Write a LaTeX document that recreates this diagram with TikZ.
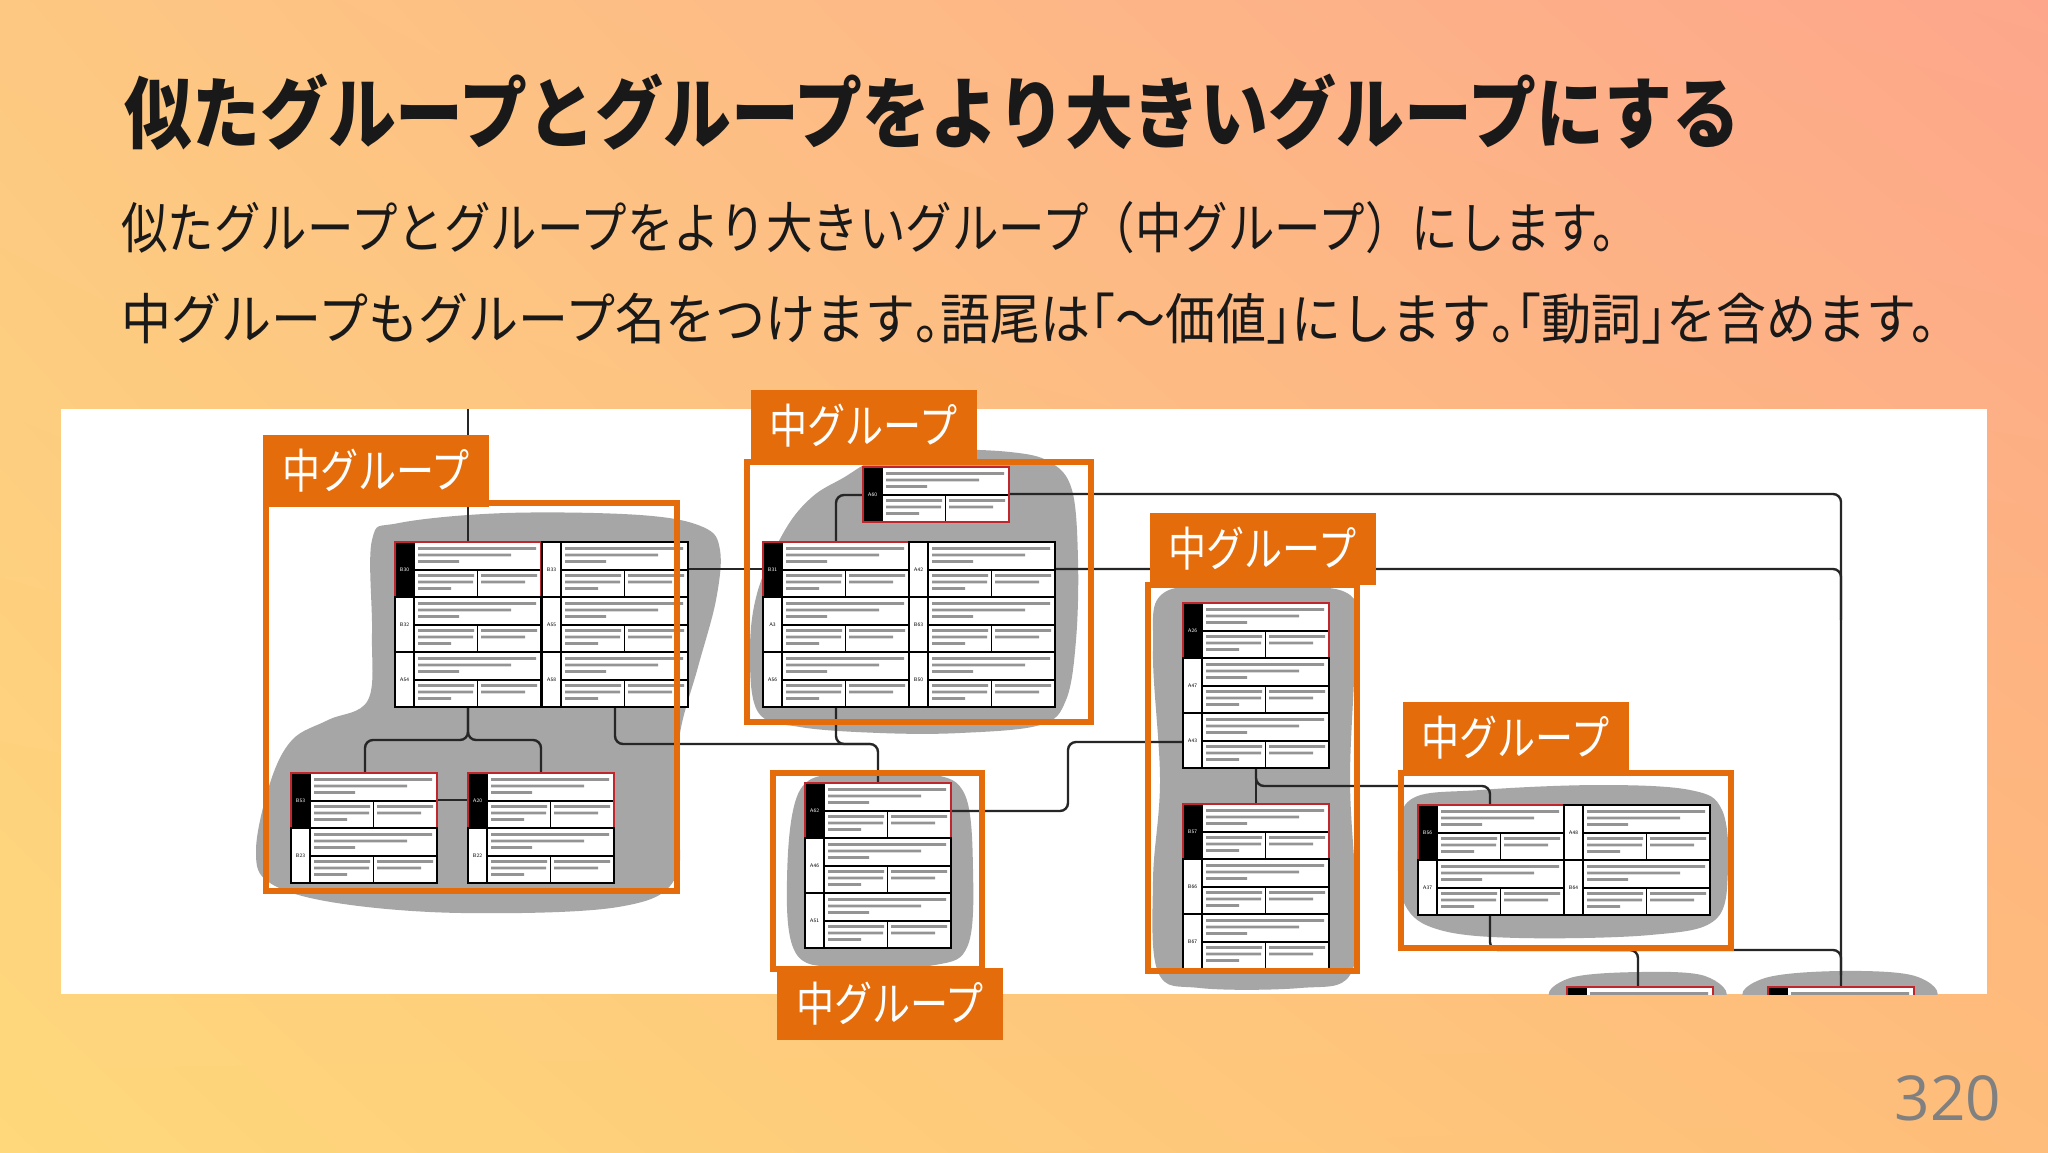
\documentclass[tikz,border=0pt]{standalone}
\usepackage{fontspec}
\usetikzlibrary{shadings}
\newfontfamily\jp{Noto Sans CJK JP}
\newfontfamily\jph{Noto Sans CJK JP}[RawFeature=+halt]
\newfontfamily\osans{Open Sans}
\definecolor{gorange}{HTML}{E46C0A}
\definecolor{blobc}{HTML}{A6A6A6}
\definecolor{linec}{HTML}{262626}
\definecolor{bgTL}{HTML}{FDC882}
\definecolor{bgTR}{HTML}{FDA68B}
\definecolor{bgBL}{HTML}{FED87B}
\definecolor{bgBR}{HTML}{FEBD7A}
\definecolor{pnumc}{HTML}{808080}
\definecolor{keyredc}{HTML}{C0272D}
\tikzset{
  conn/.style={draw=linec, line width=1.2pt, rounded corners=4pt},
  gframe/.style={draw=gorange, line width=3pt},
  lblbox/.style={fill=gorange, minimum width=113pt, minimum height=36pt, inner sep=0, text=white},
  blob/.style={fill=blobc},
  cell/.style={draw=black, line width=0.55pt},
  keyred/.style={draw=keyredc, line width=0.8pt},
  txtc/.style={fill=black!42},
  idtxt/.style={font=\sffamily\fontsize{2.6}{3}\selectfont, inner sep=0},
  headtxt/.style={anchor=west, inner sep=0, text=black!90},
}
\newcommand\lbltext{\resizebox{94pt}{\height}{\fontsize{23.5}{24}\selectfont\jp 中グループ}}
\newcommand\hp[1]{{\jph #1}}
% row of a card table: x, y, node name, id text, key(1/0)
\newcommand\crow[5]{%
\begin{scope}[shift={(#1,#2)}]
\fill[white] (0,0) rectangle (146,55);
\ifnum#5=1 \fill[black] (0,0) rectangle (19,55);\fi
\fill[txtc] (23,5) rectangle (141,7.8) (23,11.5) rectangle (116,14.3) (23,18) rectangle (64,20.8)
 (23,32) rectangle (79,34.8) (23,38.5) rectangle (78,41.3) (23,45) rectangle (56,47.8)
 (86,32) rectangle (142,34.8) (86,38.5) rectangle (130,41.3);
\draw[cell] (0,0) rectangle (146,55) (19,0) -- (19,55) (19,28) -- (146,28) (82.5,28) -- (82.5,55);
\ifnum#5=1 \node[idtxt,text=white] (#3) at (9.5,27.5) {#4}; \draw[keyred] (0,0) rectangle (146,55);
\else \node[idtxt] (#3) at (9.5,27.5) {#4};\fi
\end{scope}}
\begin{document}
\begin{tikzpicture}[x=0.5pt,y=-0.5pt]
\path[use as bounding box] (0,0) rectangle (2048,1152);
\shade[upper left=bgTL, upper right=bgTR, lower left=bgBL, lower right=bgBR] (0,0) rectangle (2048,1152);
% panel
\fill[white] (61,409) rectangle (1987,994);
\begin{scope}
\clip (61,409) rectangle (1987,994);
% blobs
\fill[blob] plot[smooth cycle, tension=0.6] coordinates {(372,540) (399,523) (506,513) (640,515) (703,527) (720,550) (716,600) (698,667) (680,733) (676,800) (676,877) (618,907) (462,913) (337,903) (270,883) (256,850) (270,783) (292,740) (328,720) (368,700) (372,633)};
\fill[blob] plot[smooth cycle, tension=0.6] coordinates {(843,478) (880,458) (940,450) (1010,452) (1050,462) (1072,490) (1078,560) (1076,640) (1066,700) (1040,725) (960,733) (880,733) (800,727) (758,712) (750,650) (758,590) (785,530) (812,497)};
\fill[blob] plot[smooth cycle, tension=0.6] coordinates {(1165,592) (1250,588) (1345,592) (1355,640) (1350,780) (1356,900) (1350,975) (1300,988) (1200,988) (1158,972) (1153,880) (1160,780) (1153,650)};
\fill[blob] plot[smooth cycle, tension=0.6] coordinates {(1410,800) (1480,790) (1600,785) (1690,790) (1722,810) (1728,870) (1715,920) (1650,935) (1520,938) (1440,930) (1405,905) (1398,850)};
\fill[blob] plot[smooth cycle, tension=0.6] coordinates {(800,790) (850,773) (930,774) (965,795) (973,870) (968,945) (935,965) (850,967) (797,955) (787,880)};
\fill[blob] plot[smooth cycle, tension=0.6] coordinates {(1553,1000) (1570,978) (1640,972) (1705,976) (1723,1000) (1640,1020)};
\fill[blob] plot[smooth cycle, tension=0.6] coordinates {(1747,1000) (1765,978) (1840,971) (1915,976) (1933,1000) (1840,1020)};
% connection points
\coordinate (top) at (468,409);
\coordinate (g1t) at (468,542);
\coordinate (g1b) at (468,707);
\coordinate (g1bl) at (365,773);
\coordinate (g1br) at (541,773);
\coordinate (g1r) at (615,707);
\coordinate (g5t) at (878,783);
\coordinate (g2b) at (836,707);
\coordinate (a60l) at (863,495);
\coordinate (g2t) at (836,542);
\coordinate (a60r) at (1009,494);
\coordinate (c2t) at (1841,987);
\coordinate (g1e) at (689,569);
\coordinate (g2w) at (763,569);
\coordinate (g2e) at (1055,569);
\coordinate (g5r) at (952,811);
\coordinate (g3w) at (1183,742);
\coordinate (g3b) at (1256,768);
\coordinate (g3bt) at (1256,804);
\coordinate (g4t) at (1490,805);
\coordinate (g4b) at (1490,915);
\coordinate (c1t) at (1638,987);
% connectors
\draw[conn] (top) -- (g1t);
\draw[conn] (g1b) -- (468,740) -| (g1bl);
\draw[conn] (g1b) -- (468,740) -| (g1br);
\draw[conn] (437,800) -- (468,800);
\draw[conn] (g1r) -- (615,744) -| (g5t);
\draw[conn] (g2b) -- (836,744) -- (870,744);
\draw[conn] (a60l) -| (g2t);
\draw[conn] (a60r) -| (c2t);
\draw[conn] (g1e) -- (g2w);
\draw[conn] (g2e) -- (1841,569) -- (1841,620);
\draw[conn] (g5r) -| (1068,776) |- (g3w);
\draw[conn] (g3b) -- (g3bt);
\draw[conn] (g3b) -- (1256,786) -| (g4t);
\draw[conn] (g4b) -- (1490,950) -| (1841,975);
\draw[conn] (1600,950) -| (c1t);
% group 1 cards
\crow{395}{542}{b30}{B30}{1}
\crow{395}{597}{b32}{B32}{0}
\crow{395}{652}{a54}{A54}{0}
\crow{542}{542}{b33}{B33}{0}
\crow{542}{597}{a55}{A55}{0}
\crow{542}{652}{a58}{A58}{0}
\crow{291}{773}{b53}{B53}{1}
\crow{291}{828}{b23}{B23}{0}
\crow{468}{773}{a20}{A20}{1}
\crow{468}{828}{b22}{B22}{0}
% group 2 cards
\crow{863}{467}{a60}{A60}{1}
\crow{763}{542}{b31}{B31}{1}
\crow{763}{597}{a3}{A3}{0}
\crow{763}{652}{a56}{A56}{0}
\crow{909}{542}{a42}{A42}{0}
\crow{909}{597}{b63}{B63}{0}
\crow{909}{652}{b50}{B50}{0}
% group 5 cards
\crow{805}{783}{a62}{A62}{1}
\crow{805}{838}{a46}{A46}{0}
\crow{805}{893}{a51}{A51}{0}
% group 3 cards
\crow{1183}{603}{a26}{A26}{1}
\crow{1183}{658}{a47}{A47}{0}
\crow{1183}{713}{a43}{A43}{0}
\crow{1183}{804}{b57}{B57}{1}
\crow{1183}{859}{b66}{B66}{0}
\crow{1183}{914}{b67}{B67}{0}
% group 4 cards
\crow{1418}{805}{b56}{B56}{1}
\crow{1418}{860}{a37}{A37}{0}
\crow{1564}{805}{a48}{A48}{0}
\crow{1564}{860}{b64}{B64}{0}
% bottom cards (cut off)
\crow{1567}{987}{c1}{}{1}
\crow{1768}{987}{c2}{}{1}
\end{scope}
% orange frames
\draw[gframe] (266,503) rectangle (677,891);
\draw[gframe] (747,462) rectangle (1091,722);
\draw[gframe] (1148,585) rectangle (1357,971);
\draw[gframe] (1401,773) rectangle (1731,948);
\draw[gframe] (773,773) rectangle (982,969);
% labels
\node[lblbox] (lab1) at (376,471) {\lbltext};
\node[lblbox] (lab2) at (863.5,426) {\lbltext};
\node[lblbox] (lab3) at (1262.5,549) {\lbltext};
\node[lblbox] (lab4) at (1515.5,738) {\lbltext};
\node[lblbox] (lab5) at (890,1004) {\lbltext};
% heading texts
\node[headtxt] (title) at (124,112) {\resizebox{808pt}{\height}{\fontsize{39}{40}\selectfont\jp\bfseries 似たグループとグループをより大きいグループにする}};
\node[headtxt] (line2) at (121,228) {\resizebox{759pt}{\height}{\fontsize{27.5}{28}\selectfont\jp 似たグループとグループをより大きいグループ（中グループ）にします。}};
\node[headtxt] (line3) at (121,319) {\resizebox{920pt}{\height}{\fontsize{27.5}{28}\selectfont\jp 中グループもグループ名をつけます\hp{。}語尾は\hp{「}～価値\hp{」}にします\hp{。「}動詞\hp{」}を含めます。}};
\node[text=pnumc, inner sep=0] (pnum) at (1948,1098) {\fontsize{31}{31}\selectfont\osans 320};
\end{tikzpicture}
\end{document}
